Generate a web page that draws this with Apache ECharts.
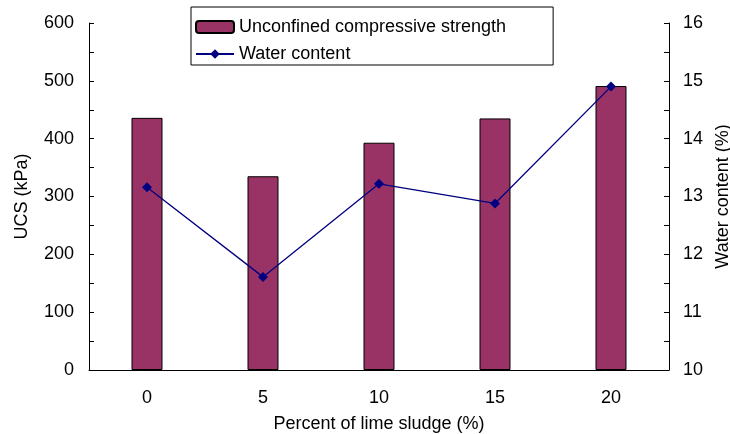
<!DOCTYPE html>
<html><head><meta charset="utf-8">
<script src="https://cdn.jsdelivr.net/npm/echarts@6/dist/echarts.min.js"></script>
<style>html,body{margin:0;padding:0;background:#fff}#c{width:730px;height:434px}</style>
</head><body><div id="c"></div>
<script>
const categories = ['0', '5', '10', '15', '20'];
const ucs = [436, 335, 393, 435, 491];
const water = [13.16, 11.61, 13.22, 12.88, 14.90];
const leftTicks = [0, 100, 200, 300, 400, 500, 600];
const rightTicks = [10, 11, 12, 13, 14, 15, 16];

const font = 'Liberation Sans, Arial, sans-serif';
const fs = 18;
const chart = echarts.init(document.getElementById('c'), null, {renderer: 'canvas'});
chart.setOption({
  animation: false,
  textStyle: {fontFamily: font, color: '#000'},
  grid: {left: 89, right: 61, top: 23, bottom: 64, containLabel: false, outerBoundsMode: 'none'},
  legend: {
    orient: 'vertical', left: 191, top: 7,
    padding: [11, 47, 2, 4], itemGap: 9,
    itemWidth: 38, itemHeight: 12,
    borderColor: '#000', borderWidth: 1,
    textStyle: {fontFamily: font, fontSize: fs, color: '#000'},
    data: [
      {name: 'Unconfined compressive strength'},
      {name: 'Water content'}
    ]
  },
  xAxis: {
    type: 'category', data: categories, boundaryGap: true,
    name: 'Percent of lime sludge (%)', nameLocation: 'middle', nameGap: 45,
    nameTextStyle: {fontFamily: font, fontSize: fs, color: '#000'},
    axisLine: {lineStyle: {color: '#000', width: 1}},
    axisTick: {inside: true, length: 5, lineStyle: {color: '#000'}},
    axisLabel: {margin: 19, fontFamily: font, fontSize: fs, color: '#000'},
    splitLine: {show: false}
  },
  yAxis: [
    {
      type: 'value', min: leftTicks[0], max: leftTicks[leftTicks.length - 1], interval: 100,
      name: 'UCS (kPa)', nameLocation: 'middle', nameGap: 58, nameRotate: 90,
      nameTextStyle: {fontFamily: font, fontSize: fs, color: '#000'},
      axisLine: {show: true, lineStyle: {color: '#000', width: 1}},
      axisTick: {show: true, inside: true, length: 5, lineStyle: {color: '#000'}},
      minorTick: {show: true, splitNumber: 2, length: 5, lineStyle: {color: '#000'}},
      axisLabel: {margin: 15, fontFamily: font, fontSize: fs, color: '#000'},
      splitLine: {show: false}
    },
    {
      type: 'value', min: rightTicks[0], max: rightTicks[rightTicks.length - 1], interval: 1,
      name: 'Water content (%)', nameLocation: 'middle', nameGap: 42, nameRotate: 90,
      nameTextStyle: {fontFamily: font, fontSize: fs, color: '#000'},
      axisLine: {show: true, lineStyle: {color: '#000', width: 1}},
      axisTick: {show: true, inside: true, length: 5, lineStyle: {color: '#000'}},
      minorTick: {show: true, splitNumber: 2, length: 5, lineStyle: {color: '#000'}},
      axisLabel: {margin: 14, fontFamily: font, fontSize: fs, color: '#000'},
      splitLine: {show: false}
    }
  ],
  series: [
    {
      name: 'Unconfined compressive strength', type: 'bar', data: ucs, yAxisIndex: 0,
      barWidth: 31,
      itemStyle: {color: '#993366', borderColor: '#000', borderWidth: 1}
    },
    {
      name: 'Water content', type: 'line', data: water, yAxisIndex: 1,
      symbol: 'diamond', symbolSize: 10,
      lineStyle: {color: '#000080', width: 1.3},
      itemStyle: {color: '#000080'}
    }
  ]
});
</script></body></html>
